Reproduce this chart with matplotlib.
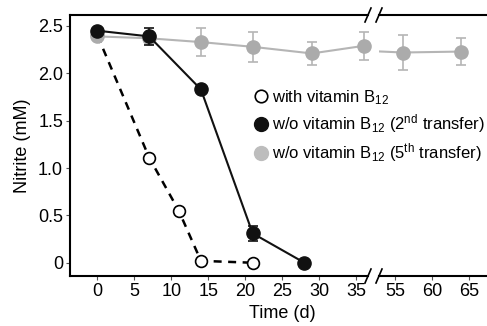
import matplotlib
matplotlib.use("Agg")
import matplotlib.pyplot as plt
from matplotlib.lines import Line2D

plt.rcParams['font.family'] = ['Liberation Sans', 'DejaVu Sans']
plt.rcParams['mathtext.fontset'] = 'custom'
plt.rcParams['mathtext.rm'] = 'Liberation Sans'
plt.rcParams['mathtext.it'] = 'Liberation Sans:italic'

# Data
days_with = [0, 7, 11, 14, 21]
nitrite_with = [2.40, 1.11, 0.55, 0.02, 0.00]

days_2nd = [0, 7, 14, 21, 28]
nitrite_2nd = [2.45, 2.39, 1.83, 0.31, 0.00]
err_2nd = [0.02, 0.09, 0.03, 0.08, 0.00]

days_5th = [0, 7, 14, 21, 29, 36, 56, 64]
nitrite_5th = [2.39, 2.37, 2.33, 2.28, 2.21, 2.29, 2.22, 2.23]
err_5th = [0.02, 0.02, 0.15, 0.16, 0.12, 0.15, 0.18, 0.14]

left_ticks = [0, 5, 10, 15, 20, 25, 30, 35]
right_ticks = [55, 60, 65]
y_ticks = [0, 0.5, 1.0, 1.5, 2.0, 2.5]
y_ticklabels = ['0', '0.5', '1.0', '1.5', '2.0', '2.5']

labels = ['with vitamin B$_{12}$',
          'w/o vitamin B$_{12}$ (2$^{\\rm nd}$ transfer)',
          'w/o vitamin B$_{12}$ (5$^{\\rm th}$ transfer)']

W, H = 487, 326
fig = plt.figure(figsize=(W/100, H/100), dpi=100)
bot = 1 - 276/H
top = 1 - 15/H
ax1 = fig.add_axes([70/W, bot, (368-70)/W, top-bot])
ax2 = fig.add_axes([379/W, bot, (W-379)/W, top-bot])
ax1.set_xlim(-3.71, 36.6)
ax2.set_xlim(52.75, 67.5)

gray = '#ababab'
gray_line = '#b5b5b5'
black = '#111111'
for ax in (ax1, ax2):
    lo, hi = ax.get_xlim()
    # white series
    ax.plot(days_with, nitrite_with, color='black', lw=1.8, dashes=(3.2, 2.6),
            marker='o', ms=8.5, mfc='white', mec='black', mew=1.2, zorder=2)
    # gray series: line + error bars (clipped), markers (unclipped within range)
    ax.errorbar(days_5th, nitrite_5th, yerr=err_5th, color=gray_line, lw=1.5,
                ecolor=gray_line, elinewidth=1.2, capsize=3.5, capthick=1.2,
                zorder=3)
    sel = [i for i, d in enumerate(days_5th) if lo <= d <= hi]
    ax.plot([days_5th[i] for i in sel], [nitrite_5th[i] for i in sel],
            ls='none', marker='o', ms=9.5, mfc=gray, mec=gray, zorder=3.1,
            clip_on=False)
    # black series
    ax.errorbar(days_2nd, nitrite_2nd, yerr=err_2nd, color=black, lw=1.5,
                marker='o', ms=9.5, mfc=black, mec=black, ecolor=black,
                elinewidth=1.2, capsize=3.5, capthick=1.2, zorder=4)
    ax.set_ylim(-0.14, 2.616)
    for s in ('top', 'bottom', 'left', 'right'):
        ax.spines[s].set_linewidth(1.5)
    ax.tick_params(direction='out', length=3, width=0.8, labelsize=13, pad=2,
                   color='#555555')

ax1.set_xticks(left_ticks)
ax2.set_xticks(right_ticks)
ax1.set_yticks(y_ticks)
ax1.set_yticklabels(y_ticklabels)
ax1.spines['right'].set_visible(False)
ax2.spines['left'].set_visible(False)
ax2.spines['right'].set_visible(False)
ax2.tick_params(axis='y', left=False, labelleft=False)
ax1.set_ylabel('Nitrite (mM)', fontsize=13, labelpad=5)

fig.text(282/W, 1-314/H, 'Time (d)', ha='center', va='center', fontsize=13)

# break marks
for xc in (368, 379):
    for yc in (15, 276):
        fig.add_artist(Line2D([(xc-3)/W, (xc+3)/W], [1-(yc+7)/H, 1-(yc-7)/H],
                              color='black', lw=1.2))

handles = [
    Line2D([], [], ls='none', marker='o', ms=9, mfc='white', mec='black', mew=1.2),
    Line2D([], [], ls='none', marker='o', ms=10, mfc=black, mec=black),
    Line2D([], [], ls='none', marker='o', ms=10, mfc='#bdbdbd', mec='#bdbdbd'),
]
fig.legend(handles, labels, loc='upper left', bbox_to_anchor=(254/W, 1-88/H),
           frameon=False, fontsize=12, handlelength=0.8, handletextpad=0.3,
           labelspacing=0.35, borderpad=0, borderaxespad=0)

fig.savefig('out.png', dpi=100)
